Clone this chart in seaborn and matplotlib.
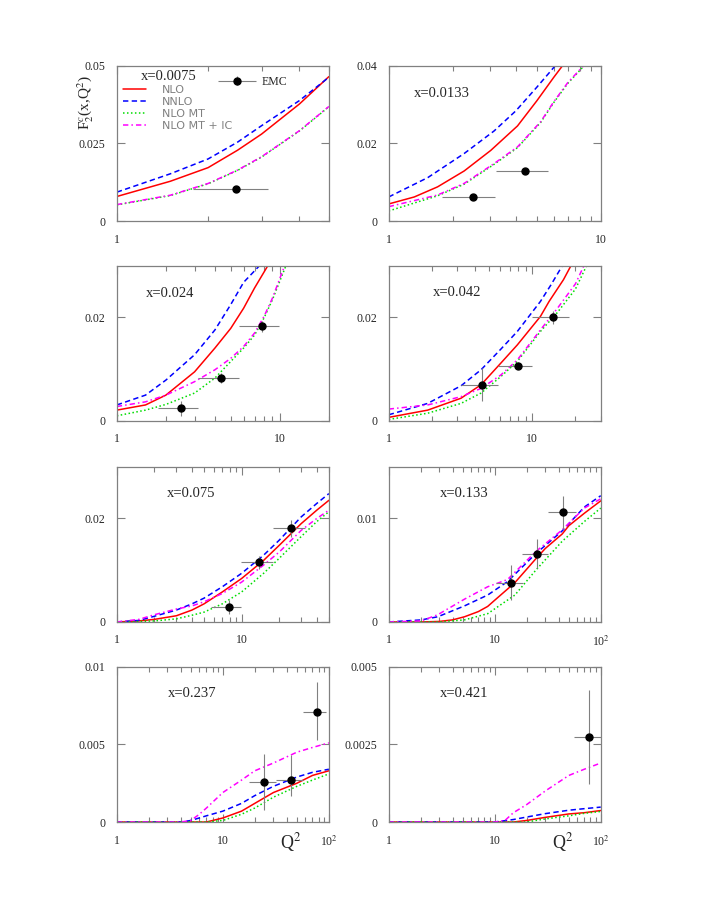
import numpy as np
import pandas as pd
import matplotlib
matplotlib.use("Agg")
import matplotlib.pyplot as plt
import seaborn as sns
from matplotlib.ticker import NullFormatter
from matplotlib.legend_handler import HandlerErrorbar
from matplotlib.container import ErrorbarContainer

sns.set_style("ticks")
plt.rcParams['font.family'] = ['Liberation Serif', 'DejaVu Serif']
plt.rcParams['mathtext.fontset'] = 'stix'

# --- curve data: (Q2, F2c) pairs ----------------------------------------
p1_nlo = [(1, 0.0079), (1.5, 0.0128), (2, 0.0172), (2.5, 0.0228), (3, 0.028), (4, 0.0377), (5, 0.0465)]
p1_nnlo = [(1, 0.0093), (1.5, 0.0152), (2, 0.020), (2.5, 0.0254), (3, 0.0307), (4, 0.0388), (5, 0.0463)]
p1_mt = [(1, 0.0052), (1.5, 0.0082), (2, 0.012), (2.5, 0.0163), (3, 0.0206), (4, 0.029), (5, 0.0368)]
p1_ic = [(1, 0.0053), (1.5, 0.0083), (2, 0.0121), (2.5, 0.0164), (3, 0.0207), (4, 0.0291), (5, 0.0369)]

p2_nlo = [(1, 0.0044), (1.32, 0.0062), (1.7, 0.0088), (2.27, 0.0129), (3.03, 0.0182), (4.05, 0.0245), (5, 0.031), (6, 0.037), (6.6, 0.04)]
p2_nnlo = [(1, 0.0062), (1.53, 0.0112), (2.27, 0.0174), (3.14, 0.0232), (3.98, 0.0284), (5, 0.0345), (6.1, 0.04)]
p2_mt = [(1, 0.0026), (1.7, 0.0065), (2.27, 0.0095), (3.14, 0.0146), (4.05, 0.0189), (5.21, 0.0254), (6, 0.0305), (7, 0.0355), (8.35, 0.04)]
p2_ic = [(1, 0.0037), (1.7, 0.0067), (2.27, 0.0097), (3.14, 0.0148), (4.05, 0.0191), (5.21, 0.0256), (6, 0.0307), (7, 0.0357), (8.3, 0.04)]

p3_nlo = [(1, 0.0021), (1.5, 0.0031), (2, 0.005), (3, 0.0095), (4, 0.0141), (5, 0.0179), (6, 0.0218), (7, 0.0257), (8.44, 0.03)]
p3_nnlo = [(1, 0.0031), (1.5, 0.005), (2, 0.0079), (3, 0.0128), (4, 0.0176), (5, 0.0225), (6, 0.0268), (7.5, 0.03)]
p3_mt = [(1, 0.001), (1.5, 0.0021), (2, 0.0032), (3, 0.0054), (4, 0.0083), (5, 0.0115), (6, 0.0141), (7, 0.0166), (8, 0.0199), (9, 0.0234), (10.9, 0.03)]
p3_ic = [(1, 0.0028), (1.5, 0.0037), (2, 0.005), (3, 0.0076), (4, 0.0099), (5, 0.0121), (6, 0.0144), (7, 0.017), (8, 0.0202), (9, 0.0237), (10.7, 0.03)]

p4_nlo = [(1, 0.0007), (1.87, 0.0021), (3.19, 0.0044), (4.4, 0.007), (6.05, 0.0112), (7.87, 0.0147), (11.4, 0.0202), (13.1, 0.0231), (16.5, 0.0273), (18.6, 0.03)]
p4_nnlo = [(1, 0.0012), (1.87, 0.0034), (3.19, 0.0068), (4.4, 0.0099), (6.05, 0.0139), (7.87, 0.0173), (11.4, 0.0231), (13.5, 0.0263), (16.2, 0.03)]
p4_mt = [(1, 0.0003), (1.87, 0.0015), (3.19, 0.0034), (4.4, 0.0054), (6.05, 0.0086), (7.87, 0.0115), (11.4, 0.0173), (15, 0.021), (20, 0.0255), (23.9, 0.03)]
p4_ic = [(1, 0.0023), (1.87, 0.0031), (3.19, 0.0047), (4.4, 0.0063), (6.05, 0.0089), (7.87, 0.0118), (11.4, 0.0176), (15, 0.0218), (20, 0.0265), (22.9, 0.03)]

p5_nlo = [(1, 0.0), (1.5, 0.0002), (2, 0.0005), (3, 0.0012), (4, 0.0023), (5, 0.0035), (7, 0.0058), (10, 0.0084), (15, 0.0119), (20, 0.0148), (30, 0.019), (40, 0.0216), (50, 0.0235)]
p5_nnlo = [(1, 0.0), (1.5, 0.0003), (2, 0.0011), (3, 0.0023), (4, 0.0035), (5, 0.0046), (7, 0.0068), (10, 0.0094), (15, 0.0129), (20, 0.0158), (30, 0.0203), (40, 0.0229), (50, 0.0248)]
p5_mt = [(1, 0.0), (1.5, 0.0001), (2, 0.0002), (3, 0.0006), (4, 0.0013), (5, 0.0019), (7, 0.0035), (10, 0.0058), (15, 0.0094), (20, 0.0123), (30, 0.0165), (40, 0.0194), (50, 0.0213)]
p5_ic = [(1, 0.0), (1.5, 0.0005), (2, 0.0014), (3, 0.0025), (4, 0.0031), (5, 0.0039), (7, 0.0055), (10, 0.0077), (15, 0.011), (20, 0.0135), (30, 0.0177), (40, 0.02), (50, 0.0216)]

p6_nlo = [(1, 0.0), (2, 0.0), (3, 0.00005), (4, 0.0002), (5.18, 0.0005), (7, 0.001), (8.58, 0.0015), (10, 0.0021), (15.5, 0.0038), (24.4, 0.0061), (30, 0.0071), (43.3, 0.0085), (50, 0.0093), (70, 0.0105), (100, 0.0117)]
p6_nnlo = [(1, 0.0), (2.03, 0.0002), (2.9, 0.0005), (5.18, 0.00155), (8.58, 0.0026), (13.2, 0.0039), (24.4, 0.0066), (43.3, 0.0088), (70, 0.0111), (100, 0.0122)]
p6_mt = [(1, 0.0), (3, 0.0), (5.18, 0.0002), (8.58, 0.0008), (15.5, 0.0026), (24.4, 0.005), (43.3, 0.0078), (70, 0.0097), (100, 0.011)]
p6_ic = [(1, 0.0), (2.03, 0.0001), (2.9, 0.0007), (5.18, 0.0022), (8.58, 0.0034), (13.2, 0.0041), (24.4, 0.0068), (43.3, 0.0089), (70, 0.011), (100, 0.0119)]

p7_nlo = [(1, 0.0), (5, 0.0), (7, 0.0), (10, 0.00026), (15, 0.0007), (20, 0.0012), (30, 0.0019), (50, 0.0025), (70, 0.003), (100, 0.0033)]
p7_nnlo = [(1, 0.0), (4, 0.0), (5, 0.0001), (7, 0.0004), (10, 0.0007), (15, 0.0012), (20, 0.0017), (30, 0.0023), (50, 0.0029), (70, 0.0032), (100, 0.0034)]
p7_mt = [(1, 0.0), (7, 0.0), (10, 0.0001), (15, 0.0005), (20, 0.0009), (30, 0.0016), (50, 0.0023), (70, 0.0027), (100, 0.0031)]
p7_ic = [(1, 0.0), (4, 0.0), (5, 0.0001), (6, 0.0005), (7, 0.0009), (10, 0.0019), (15, 0.0027), (20, 0.0033), (30, 0.0038), (50, 0.0045), (70, 0.0048), (100, 0.0051)]

p8_nlo = [(1, 0.0), (15, 0.0), (20, 0.00005), (30, 0.00015), (50, 0.00026), (70, 0.0003), (100, 0.00037)]
p8_nnlo = [(1, 0.0), (10, 0.0), (15, 0.00008), (20, 0.00016), (30, 0.00027), (50, 0.00038), (70, 0.00043), (100, 0.00048)]
p8_mt = [(1, 0.0), (20, 0.0), (30, 0.0001), (50, 0.0002), (70, 0.00028), (100, 0.00034)]
p8_ic = [(1, 0.0), (10, 0.0), (12.5, 0.00005), (15, 0.0003), (20, 0.00056), (30, 0.001), (50, 0.0015), (70, 0.0017), (100, 0.0019)]

# --- EMC points: Q2, bin low, bin high, F2c, err down, err up --------------
emc_p1 = [(2.47, 1.78, 3.15, 0.0104, 0.0003, 0.0003)]
emc_p2 = [(2.49, 1.79, 3.17, 0.0062, 0.0003, 0.0003), (4.4, 3.2, 5.65, 0.0129, 0.0004, 0.0004)]
emc_p3 = [(2.46, 1.78, 3.14, 0.00245, 0.0014, 0.0014), (4.37, 3.14, 5.65, 0.0083, 0.0009, 0.0009),
          (7.77, 5.65, 9.95, 0.01826, 0.001, 0.001)]
emc_p4 = [(4.44, 3.19, 5.74, 0.007, 0.0032, 0.0032), (7.9, 5.74, 10.0, 0.0107, 0.0007, 0.0007),
          (14.0, 10.0, 18.0, 0.02, 0.0013, 0.0013)]
emc_p5 = [(7.87, 5.7, 9.94, 0.0029, 0.0013, 0.0013), (13.9, 9.94, 17.8, 0.0115, 0.0012, 0.0012),
          (24.7, 17.8, 32.0, 0.0181, 0.0016, 0.0016)]
emc_p6 = [(14.1, 10.2, 18.3, 0.0038, 0.0017, 0.0017), (25.0, 18.0, 32.0, 0.0066, 0.0014, 0.0014),
          (44.2, 32.0, 58.0, 0.0106, 0.0016, 0.0016)]
emc_p7 = [(24.5, 17.8, 31.8, 0.0026, 0.0018, 0.0018), (43.8, 31.8, 56.8, 0.0027, 0.001, 0.0016),
          (77.7, 56.8, 94.6, 0.0071, 0.0018, 0.0019)]
emc_p8 = [(77.6, 56.0, 100.0, 0.00274, 0.0015, 0.0015)]

x_labels = ["x=0.0075", "x=0.0133", "x=0.024", "x=0.042", "x=0.075", "x=0.133", "x=0.237", "x=0.421"]
x_max = [5, 10, 20, 30, 50, 100, 100, 100]
y_max = [0.05, 0.04, 0.03, 0.03, 0.03, 0.015, 0.01, 0.005]
y_ticks = [[0, 0.025, 0.05], [0, 0.02, 0.04], [0, 0.02], [0, 0.02], [0, 0.02], [0, 0.01],
           [0, 0.005, 0.01], [0, 0.0025, 0.005]]
y_ticklabels = [["0", "0.025", "0.05"], ["0", "0.02", "0.04"], ["0", "0.02"], ["0", "0.02"],
                ["0", "0.02"], ["0", "0.01"], ["0", "0.005", "0.01"], ["0", "0.0025", "0.005"]]
label_pos = [(0.115, 0.93), (0.118, 0.82), (0.138, 0.82), (0.207, 0.83),
             (0.236, 0.83), (0.242, 0.83), (0.24, 0.83), (0.242, 0.83)]

curves = [
    (p1_nlo, p1_nnlo, p1_mt, p1_ic), (p2_nlo, p2_nnlo, p2_mt, p2_ic),
    (p3_nlo, p3_nnlo, p3_mt, p3_ic), (p4_nlo, p4_nnlo, p4_mt, p4_ic),
    (p5_nlo, p5_nnlo, p5_mt, p5_ic), (p6_nlo, p6_nnlo, p6_mt, p6_ic),
    (p7_nlo, p7_nnlo, p7_mt, p7_ic), (p8_nlo, p8_nnlo, p8_mt, p8_ic),
]
emc = [emc_p1, emc_p2, emc_p3, emc_p4, emc_p5, emc_p6, emc_p7, emc_p8]

series_names = ["NLO", "NNLO", "NLO MT", "NLO MT + IC"]
styles = [
    dict(color="#ff0000", linestyle="-"),
    dict(color="#0000ff", linestyle=(0, (3.5, 2.2))),
    dict(color="#00dd00", linestyle=(0, (1, 1.6))),
    dict(color="#ff00ff", linestyle=(0, (3.5, 2, 1, 2))),
]

FRAME = "#808080"

fig = plt.figure(figsize=(7.08, 9.16), dpi=100)
col_left = [0.165, 0.549]
row_bottom = [0.7587, 0.5404, 0.3210, 0.1026]
ax_w, ax_h = 0.2995, 0.1695

for i in range(8):
    r, c = divmod(i, 2)
    ax = fig.add_axes([col_left[c], row_bottom[r], ax_w, ax_h])
    ax.set_xscale("log")

    lines = []
    for name, pts, st in zip(series_names, curves[i], styles):
        df = pd.DataFrame(pts, columns=["Q2", "F2c"])
        sns.lineplot(data=df, x="Q2", y="F2c", ax=ax, lw=1.1, sort=False,
                     estimator=None, **st)
        lines.append(ax.get_lines()[-1])

    ed = pd.DataFrame(emc[i], columns=["Q2", "lo", "hi", "F", "dlo", "dhi"])
    eb = ax.errorbar(ed["Q2"], ed["F"],
                     xerr=[ed["Q2"] - ed["lo"], ed["hi"] - ed["Q2"]],
                     yerr=[ed["dlo"], ed["dhi"]],
                     fmt="o", color="black", ms=5, ecolor="#808080",
                     elinewidth=0.8, capsize=0, zorder=5)

    ax.set_xlim(1, x_max[i])
    ax.set_ylim(0, y_max[i])
    xt = [t for t in [1, 10, 100] if t <= x_max[i]]
    xl = {1: "1", 10: "10", 100: "10$^2$"}
    ax.set_xticks(xt)
    ax.set_xticklabels([xl[t] for t in xt])
    ax.xaxis.set_minor_formatter(NullFormatter())
    ax.set_yticks(y_ticks[i])
    ax.set_yticklabels(y_ticklabels[i])
    ax.set_xlabel("")
    ax.set_ylabel("")

    ax.tick_params(which="both", direction="in", top=True, right=True,
                   color=FRAME, labelsize=8.5)
    ax.tick_params(axis="x", which="both", pad=9)
    ax.tick_params(axis="y", which="both", pad=8)
    ax.tick_params(which="major", length=6, width=0.8)
    ax.tick_params(which="minor", length=3.5, width=0.8)
    for sp in ax.spines.values():
        sp.set_color(FRAME)
        sp.set_linewidth(0.9)

    ax.text(label_pos[i][0], label_pos[i][1], x_labels[i], transform=ax.transAxes,
            fontsize=10.5, ha="left", va="center")

    if i == 0:
        leg = ax.legend(lines, series_names, loc="upper left",
                        bbox_to_anchor=(0.01, 0.905), frameon=False,
                        handlelength=2.0, handletextpad=1.5, labelspacing=0.18,
                        borderaxespad=0, prop={"family": "DejaVu Sans", "size": 8})
        for t in leg.get_texts():
            t.set_color("#808080")
        ax.add_artist(leg)
        ax.legend([eb], ["EMC"], loc="center left", bbox_to_anchor=(0.45, 0.897),
                  frameon=False, handlelength=3.4, handletextpad=0.4, borderaxespad=0,
                  handler_map={ErrorbarContainer: HandlerErrorbar(xerr_size=1.6, yerr_size=0.4)},
                  prop={"size": 8.5})
        ax.text(-0.145, 0.765, r"F$_2^c$(x,Q$^2$)", transform=ax.transAxes,
                rotation=90, ha="center", va="center", fontsize=11)
    if r == 3:
        ax.text(0.77, -0.13, r"Q$^2$", transform=ax.transAxes, fontsize=13,
                ha="left", va="center")

fig.savefig("out.png", dpi=100)
